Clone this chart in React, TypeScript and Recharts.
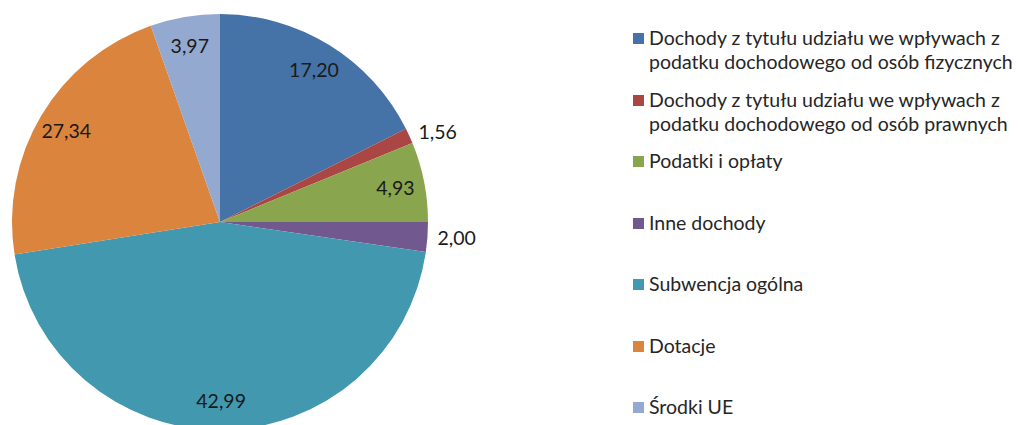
import React from 'react';
import { PieChart, Pie, Cell, Legend } from 'recharts';

const categories = [
  'Dochody z tytułu udziału we wpływach z podatku dochodowego od osób fizycznych',
  'Dochody z tytułu udziału we wpływach z podatku dochodowego od osób prawnych',
  'Podatki i opłaty',
  'Inne dochody',
  'Subwencja ogólna',
  'Dotacje',
  'Środki UE',
];
const legendLines = [
  ['Dochody z tytułu udziału we wpływach z', 'podatku dochodowego od osób fizycznych'],
  ['Dochody z tytułu udziału we wpływach z', 'podatku dochodowego od osób prawnych'],
  ['Podatki i opłaty'],
  ['Inne dochody'],
  ['Subwencja ogólna'],
  ['Dotacje'],
  ['Środki UE'],
];
// slice sizes as drawn in the picture (share of the circle, %)
const sliceShares = [17.6, 1.2, 6.2, 2.3, 45.2, 22.1, 5.4];
// data labels as printed on the slices
const valueLabels = ['17,20', '1,56', '4,93', '2,00', '42,99', '27,34', '3,97'];
const outsideLabels = [false, true, false, true, false, false, false];
const colors = ['#4572A7', '#AA4643', '#89A54E', '#71588F', '#4198AF', '#DB843D', '#93A9CF'];

const data = categories.map((name, i) => ({ name, value: sliceShares[i] }));

const FONT = 'Lato, "Open Sans", sans-serif';
const RAD = Math.PI / 180;

const renderLabel = (props: any) => {
  const { cx, cy, midAngle, outerRadius, index } = props;
  const outside = outsideLabels[index];
  const r = outside ? outerRadius + 10 : outerRadius * 0.86;
  const x = cx + r * Math.cos(-midAngle * RAD);
  const y = cy + r * Math.sin(-midAngle * RAD);
  return (
    <text
      x={x}
      y={y}
      fill="#1a1a1a"
      fontSize={19.5}
      fontFamily={FONT}
      textAnchor={outside ? 'start' : 'middle'}
      dominantBaseline="central"
    >
      {valueLabels[index]}
    </text>
  );
};

const LegendContent = () => (
  <div style={{ fontFamily: FONT, fontSize: 19.5, color: '#262626' }}>
    {legendLines.map((lines, i) => (
      <div key={i} style={{ display: 'flex', alignItems: 'flex-start', height: 61.5 }}>
        <div
          style={{
            width: 11,
            height: 11,
            background: colors[i],
            marginTop: 7,
            marginRight: 5,
            flexShrink: 0,
          }}
        />
        <div style={{ lineHeight: '24px' }}>
          {lines.map((l, j) => (
            <div key={j} style={{ whiteSpace: 'nowrap' }}>{l}</div>
          ))}
        </div>
      </div>
    ))}
  </div>
);

export default function App() {
  return (
    <div style={{ position: 'absolute', left: 0, top: 0, width: 1018, height: 425, background: '#fff' }}>
      <PieChart width={1018} height={425} margin={{ top: 0, right: 0, bottom: 0, left: 0 }}>
        <Pie
          data={data}
          dataKey="value"
          nameKey="name"
          cx={220}
          cy={222}
          outerRadius={208}
          startAngle={90}
          endAngle={-270}
          stroke="none"
          label={renderLabel}
          labelLine={false}
          isAnimationActive={false}
        >
          {data.map((d, i) => (
            <Cell key={d.name} fill={colors[i]} />
          ))}
        </Pie>
        <Legend
          content={<LegendContent />}
          layout="vertical"
          align="right"
          verticalAlign="top"
          wrapperStyle={{ left: 633, top: 26, width: 385 }}
        />
      </PieChart>
    </div>
  );
}
